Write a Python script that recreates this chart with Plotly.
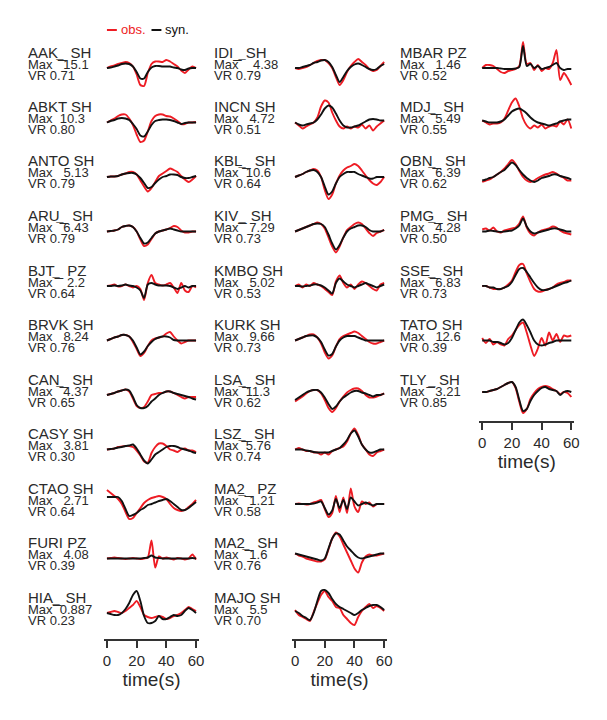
import plotly.graph_objects as go

# ---------------- data ----------------
T = [0, 2.5, 5, 7.5, 10, 12.5, 15, 17.5, 20, 22.5, 25, 27.5, 30, 32.5, 35, 37.5, 40,
     42.5, 45, 47.5, 50, 52.5, 55, 57.5, 60]
TICKS = [0, 20, 40, 60]

COL1 = ["AAK_ SH", "ABKT SH", "ANTO SH", "ARU_ SH", "BJT_ PZ", "BRVK SH", "CAN_ SH",
        "CASY SH", "CTAO SH", "FURI PZ", "HIA_ SH"]
MAX1 = ["Max ¯15.1", "Max \u00a010.3", "Max \u00a0 5.13", "Max ¯6.43", "Max¯ \u00a02.2",
        "Max \u00a0 8.24", "Max ¯4.37", "Max \u00a0 3.81", "Max \u00a0 2.71", "Max \u00a0 4.08",
        "Max¯0.887"]
VR1 = ["VR 0.71", "VR 0.80", "VR 0.79", "VR 0.79", "VR 0.64", "VR 0.76", "VR 0.65",
       "VR 0.30", "VR 0.64", "VR 0.39", "VR 0.23"]

COL2 = ["IDI_ SH", "INCN SH", "KBL_ SH", "KIV_ SH", "KMBO SH", "KURK SH", "LSA_ SH",
        "LSZ_ SH", "MA2_ PZ", "MA2_ SH", "MAJO SH"]
MAX2 = ["Max¯ \u00a04.38", "Max \u00a0 4.72", "Max¯10.6", "Max¯ 7.29", "Max \u00a0 5.02",
        "Max \u00a0 9.66", "Max¯11.3", "Max¯5.76", "Max¯ 1.21", "Max ¯1.6", "Max \u00a0 5.5"]
VR2 = ["VR 0.79", "VR 0.51", "VR 0.64", "VR 0.73", "VR 0.53", "VR 0.73", "VR 0.62",
       "VR 0.74", "VR 0.58", "VR 0.76", "VR 0.70"]

COL3 = ["MBAR PZ", "MDJ_ SH", "OBN_ SH", "PMG_ SH", "SSE_ SH", "TATO SH", "TLY_ SH"]
MAX3 = ["Max \u00a0 1.46", "Max ¯5.49", "Max ¯6.39", "Max ¯4.28", "Max ¯6.83",
        "Max \u00a0 12.6", "Max ¯3.21"]
VR3 = ["VR 0.52", "VR 0.55", "VR 0.62", "VR 0.50", "VR 0.73", "VR 0.39", "VR 0.85"]

# waveforms (pixel-scaled amplitude, up positive), sampled on T
SYN_AAK = [0, 0.5, 1.5, 2.5, 4, 4.5, 4, 1.5, -4, -10.5, -10.5, -4, 0.5, 2, 2, 1.5, 1.5, 1.5, 0.5, 0, -1.5, -2, -0.5, 0, 0]
OBS_AAK = [0, 1.5, 2.5, 4, 5, 6, 5, 1.5, -6.5, -17, -18, -5, 4, 6.5, 6.5, 6, 8, 6.5, 4, 1.5, -2.5, -5, -1.5, 1.5, 0]
SYN_ABKT = [0, 1.5, 2.5, 4, 4.5, 4, 2.5, -1.5, -6.5, -13, -14, -9, -2.5, 1.5, 2.5, 3, 3, 2.5, 1.5, 0, -1.5, -0.5, 0, 0, 0]
OBS_ABKT = [0, 2, 4, 6.5, 8, 8, 4, -2.5, -12, -19.5, -18, -9, 1.5, 6.5, 8, 8, 6.5, 6, 4, 1.5, -1.5, -1.5, 0, 0, 0.5]
SYN_ANTO = [0, 0.5, 0.5, 1, 2.5, 3.5, 4, 4, 2.5, -1, -6, -11, -10, -6, -2.5, 0, 1, 2.5, 2.5, 2, 0, -1, -1, 0, 1]
OBS_ANTO = [0, 0.5, 0.5, 1, 2.5, 3.5, 5, 5, 2.5, -3.5, -9.5, -14.5, -11, -5, 1, 3.5, 6, 8.5, 7, 5, 1, -2.5, -5, -2.5, 1]
SYN_ARU = [0, 0.5, 1, 2, 4.5, 5.5, 6, 4.5, 0, -6.5, -12, -11, -6.5, -2, 0, 1, 2, 3, 2, 1, 0, 0, 0, 0, 0]
OBS_ARU = [0, 0.5, 1, 2, 4.5, 5.5, 6, 4.5, 0, -8, -14.5, -13, -7.5, -2, 0, 1, 2, 3.5, 5.5, 4.5, 1, -1, -1, 0, 0]
SYN_BJT = [0, 0, 0.5, 0, 0.5, 1.5, 0.5, 0, -1.5, -4.5, -12, 1.5, 3, 1.5, 0.5, 0.5, 0.5, 0, -1.5, -3, -1.5, 0, -1.5, 0, 0]
OBS_BJT = [0, 0.5, 1.5, -0.5, 0, 1.5, 0, -1.5, 0, -3, -14, 3, 11, 3, 1.5, 0.5, 1.5, 3, -1.5, -7, 3, -4.5, -6, 0, -1.5]
SYN_BRVK = [0, 1.5, 3, 4, 5.5, 5.5, 4, 0, -7, -14, -11, -5.5, -1.5, 1.5, 3, 4, 4, 3, 0.5, 0, 0, 0, 0, 0, 0]
OBS_BRVK = [0, 1.5, 3, 4, 5.5, 5.5, 4, -1.5, -8.5, -15.5, -12.5, -5.5, 0, 2, 3, 4, 7, 8.5, 4, 0, -3, -1.5, 0, 0, 0]
SYN_CAN = [0, 1, 2, 3.5, 4.5, 5.5, 4.5, -2, -10, -13, -13, -11, -6.5, -3.5, 0, 2, 3.5, 3.5, 2, 1, 0, -1, -2, -3.5, -4.5]
OBS_CAN = [0, 1, 2, 3.5, 4.5, 5.5, 3.5, -3.5, -11, -13, -12, -6.5, 0, 1, 2, 2, 3.5, 3.5, 2, 0, -2, -3.5, -2, -2, -2]
SYN_CASY = [0, 0.5, 1, 2, 2.5, 3.5, 4, 5, 1, -5, -11, -14, -10, -5, -2.5, 0, 2.5, 3.5, 3.5, 2.5, 1, 0, -1, -2.5, -3.5]
OBS_CASY = [0, 0.5, 1, 2.5, 3, 3.5, 3.5, 2.5, -1, -6, -12, -13, -3.5, 2.5, 6, 6, 3.5, 0, -1, -2.5, 0, 1, -1, -1, -2.5]
SYN_CTAO = [7, 7, 7, 7, 3, -5, -12, -11, -9, -6, -4, -1, 0, 1.5, 3, 4, 5, 3, 0, -3, -6, -6, -4, -1, 2]
OBS_CTAO = [14, 11, 8, 5, 0, -8, -15, -14, -9, -4, 1, 4, 6, 7, 8, 7, 5, 0, -4, -6, -7, -6, -3, 0, 4]
SYN_FURI = [0, 0, 0, 0, 0, 0, 0, 0, 0, 0, 0.5, 1, 3, 1, 0.5, 0, 0, 0, 0, 0, 0, 0, 0, 0.5, 0]
OBS_FURI = [0, 0.5, 1, 0.5, 0, -0.5, 0, 0.5, 0, -0.5, 0, 1, 18, -9, 2, 0, 1, 0, -1, 0.5, 0, -1, 0, 4, -1]
SYN_HIA = [0, -1, -2, -2, 0, 4, 10, 18, 22, 12, -3, -10, -10, -8, -3, -6, -6, -4, -2, -3, -2, 2, 5, 3, 0]
OBS_HIA = [0, 1, 2, 1, 0, 2, 5, 8, 12, 6, -2, -4, -5, -4, -3, -4, -6, -5, -3, -2, 0, 3, 6, 4, 2]

SYN_IDI = [0, 0, 1, 2, 3, 5, 6, 7.5, 8, 6, 1, -7, -14, -9, -3, 1, 3.5, 4.5, 3, 1, -1, -2, -1, 2, 4]
OBS_IDI = [0, -1, 0, 1, 3, 5, 7, 8, 8, 5, 0, -9, -17, -12, -4, 2, 6, 9, 6, 3, -1, -3, -2, 2, 6]
SYN_INCN = [0, -2, -3, -2, -1, 0, 3, 8, 14, 17, 15, 9, 2, -3, -5, -5, -4, -3, -1, 1, 3, 3.5, 3, 2, 2]
OBS_INCN = [0, -3, -6, -4, -2, 0, 5, 16, 22, 20, 10, 2, -4, -6, -4, -6, -4, -5, -2, -6, -3, -8, -4, -1, 2]
SYN_KBL = [0, 1.5, 3, 5, 6.5, 7, 5, 0, -9.5, -17.5, -14.5, -6.5, 0, 3, 5, 5, 5, 3, 1.5, 0, -1.5, -1.5, 0, 0, 0]
OBS_KBL = [0, 1.5, 3, 5, 6.5, 8, 6.5, 0, -13, -22, -17.5, -6.5, 1.5, 6.5, 9.5, 11, 13, 11, 6.5, 1.5, -3, -6.5, -8, -5, 0]
SYN_KIV = [0, 1.5, 3, 4.5, 6, 7.5, 8, 7.5, 4.5, -3, -12, -18, -13.5, -6, 0, 3, 4.5, 6, 6, 4.5, 1.5, 0, 0, 0, 1.5]
OBS_KIV = [0, 1.5, 3, 4.5, 6, 7.5, 9, 7.5, 3, -6, -15, -21, -15, -6, 1.5, 4.5, 7.5, 9, 7.5, 3, -1.5, -4.5, -1.5, 0, 1.5]
SYN_KMBO = [0, 0, -0.5, 0, 0.5, 1.5, 1.5, 0.5, -1.5, -4.5, -7.5, 3, 7.5, 4.5, 1.5, 0, -1.5, 0, 1.5, 3, 1.5, 0, -1.5, 0, 1.5]
OBS_KMBO = [0, 1.5, -1.5, 1.5, 0, 3, 1.5, 0, -3, -6, -9, 4.5, 10.5, 3, -1.5, 1.5, -3, 1.5, 4.5, 3, 0, -3, -4.5, 1.5, 3]
SYN_KURK = [0, 1.5, 3, 4.5, 5, 5, 3, -1.5, -9, -15, -13.5, -6, 0, 3, 4.5, 4.5, 4.5, 3, 1.5, 0, 0, 0, 0, 0, 0]
OBS_KURK = [0, 1.5, 3, 4.5, 6, 6, 3, -3, -12, -18, -15, -6, 1.5, 4.5, 6, 7.5, 9, 7.5, 4.5, 1.5, -1.5, -3, -3, -1.5, 0]
SYN_LSA = [-5, -2.5, 0, 2.5, 4, 5, 5, 2.5, -2.5, -9, -14, -11.5, -6.5, -2.5, 0, 2.5, 4, 4, 2.5, 1.5, 0, -1.5, 0, 0, 1.5]
OBS_LSA = [-6.5, -4, -1.5, 1.5, 4, 5, 5, 1.5, -5, -13, -17, -13, -6.5, -1.5, 2.5, 5, 6.5, 6.5, 4, 0, -2.5, -2.5, -1.5, 0, 1.5]
SYN_LSZ = [0, 0, 0, -1, -1.5, -2.5, -3, -3, -3, -3, -1.5, 0, 1.5, 5, 9.5, 16, 19, 13, 5, 0, -3, -3, -1.5, 0, 0]
OBS_LSZ = [0, 1.5, 0, -1.5, -1.5, -3, -3, -5, -3, -5, -1.5, 0, 1.5, 3, 8, 16, 21, 14.5, 5, 0, -5, -6.5, -3, -1.5, 0]
SYN_MA2P = [0, 0, 0, 0, 0, 0.5, 1.5, 2.5, -4, -10.5, -6.5, 5, -4, 4, -5, 6.5, 2.5, -1.5, 0, 1.5, 0, -1.5, 0, 0, 0]
OBS_MA2P = [0, 0.5, 0, -0.5, 0, 1.5, 2.5, 4, -5, -13, -9, 8, -8, 6.5, -9, 15.5, -2.5, -8, 2.5, 0, 1.5, -2.5, 0, 0, 0]
SYN_MA2S = [5, 4, 3, 2, 1, 0, -1, -2, 0, 10, 20, 25, 24, 18, 12, 8, 4, 1, 0, 1, 2, 3, 4, 5, 5]
OBS_MA2S = [5, 3, 2, 0, -1, -2, -3, -3, -1, 9, 20, 26, 22, 14, 6, -2, -10, -14, -4, 2, 4, 3, 3, 4, 5]
SYN_MAJO = [2, 0, -3, -5, -7, 0, 12, 22, 23, 20, 14, 9, 6, 4, 2, 0, -2, 0, 3, 5, 7, 8, 8, 6, 3]
OBS_MAJO = [3, -2, -4, -6, -8, 1, 10, 18, 22, 16, 12, 6, 5, -2, -6, -10, -12, -4, 2, 6, 9, 5, 7, 5, 2]

SYN_MBAR = [0, 0, 0, 0, 0, -0.5, -1, -1, -1, -0.5, 1, 22, 2, 4, 0, 2, -1, 0, 1, 3, 5, 0, -2, -1, -1]
OBS_MBAR = [0, 3, 3, 2, -1, -4, -5, -3, -2, -1, 2, 26, 4, 5, -2, 3, -3, 0, -1, 5, 18, -12, -5, -10, -17]
SYN_MDJ = [2, 1, 0, 0, 0, 1, 3, 7, 11, 13, 14, 12, 9, 5, 2, 0, -1, -2, -3, -2, -1, 1, 2, 3, 3]
OBS_MDJ = [2, 0, -2, -1, -1, 0, 4, 12, 20, 24, 16, 4, -3, -6, -3, -5, -2, -6, -4, -3, -4, 1, -2, 3, -6]
SYN_OBN = [-3.5, -2.5, -1, 0, 2.5, 5, 7, 11, 14.5, 12, 7, 2.5, -1, -3.5, -5, -3.5, -1, 0, 1, 2.5, 2.5, 1, 0, -1, -2.5]
OBS_OBN = [-5, -3.5, -2.5, 0, 2.5, 5, 8.5, 13, 17, 13, 6, 0, -3.5, -5, -3.5, -1, 1, 2.5, 3.5, 5, 3.5, 1, -1, -3.5, -3.5]
SYN_PMG = [0, 0, 1, 0.5, 0, -0.5, 0, 0.5, 1, 3, 6, 13, 5, 0, -2, -1, 0, 1, 2, 3, 3, 2, 1, 0, 0]
OBS_PMG = [2, 3, 1, 4, 0, -1, 1, 2, 3, 4, 8, 15, 4, -2, -4, -1, 1, 2, 3, 5, 4, 1, -1, -2, -3]
SYN_SSE = [0, 0, -1.5, -1.5, -3, -3, -1.5, 0, 4, 11, 17, 18, 14, 8.5, 3, -1.5, -4, -4, -3, -1.5, 0, 1.5, 3, 4, 5.5]
OBS_SSE = [0, 0, -1.5, -3, -3, -3, -1.5, 1.5, 5.5, 14, 21, 22, 12.5, 4, -3, -5.5, -5.5, -4, -3, -1.5, 1.5, 3, 4, 5.5, 5.5]
SYN_TATO = [0, 0, 0, -1.5, -1.5, -2.5, -4, -2.5, 2.5, 10.5, 18, 21, 15.5, 8, 0, -4, -5, -4, -2.5, -1.5, 0, 0, 0, 0, 0]
OBS_TATO = [2.5, -2.5, 1.5, -4, -1.5, -4, -5, 1.5, 5, 10.5, 15.5, 18, 8, -5, -15.5, -8, 2.5, -5, 8, 0, 6.5, -1.5, 5, 4, 5]
SYN_TLY = [3, 3, 4, 5, 6, 8, 10, 12, 13, 8, -5, -16, -14, -6, 0, 4, 7, 8, 6, 5, 4, 0, 3, 4, 3]
OBS_TLY = [3, 3, 4, 5, 6, 8, 10, 12, 13, 7, -7, -18, -14, -4, 2, 6, 8, 9, 8, 6, 4, 1, 3, 2, -2]

OBS1 = [OBS_AAK, OBS_ABKT, OBS_ANTO, OBS_ARU, OBS_BJT, OBS_BRVK, OBS_CAN, OBS_CASY, OBS_CTAO, OBS_FURI, OBS_HIA]
SYN1 = [SYN_AAK, SYN_ABKT, SYN_ANTO, SYN_ARU, SYN_BJT, SYN_BRVK, SYN_CAN, SYN_CASY, SYN_CTAO, SYN_FURI, SYN_HIA]
OBS2 = [OBS_IDI, OBS_INCN, OBS_KBL, OBS_KIV, OBS_KMBO, OBS_KURK, OBS_LSA, OBS_LSZ, OBS_MA2P, OBS_MA2S, OBS_MAJO]
SYN2 = [SYN_IDI, SYN_INCN, SYN_KBL, SYN_KIV, SYN_KMBO, SYN_KURK, SYN_LSA, SYN_LSZ, SYN_MA2P, SYN_MA2S, SYN_MAJO]
OBS3 = [OBS_MBAR, OBS_MDJ, OBS_OBN, OBS_PMG, OBS_SSE, OBS_TATO, OBS_TLY]
SYN3 = [SYN_MBAR, SYN_MDJ, SYN_OBN, SYN_PMG, SYN_SSE, SYN_TATO, SYN_TLY]

# ---------------- layout ----------------
W, H = 607, 720
ROW0, DY, HALF = 68, 54.5, 30
FONT = "Liberation Sans, Arial, sans-serif"
TXT = "#2a2a2a"
RED = "#ee1c24"

columns = [
    dict(names=COL1, maxs=MAX1, vrs=VR1, obs=OBS1, syn=SYN1, x0=104, x1=200, tx=26),
    dict(names=COL2, maxs=MAX2, vrs=VR2, obs=OBS2, syn=SYN2, x0=294, x1=390, tx=214),
    dict(names=COL3, maxs=MAX3, vrs=VR3, obs=OBS3, syn=SYN3, x0=483, x1=579, tx=402),
]

fig = go.Figure()
layout = dict(width=W, height=H, margin=dict(l=0, r=0, t=0, b=0),
              paper_bgcolor="white", plot_bgcolor="rgba(0,0,0,0)",
              showlegend=False, font=dict(family=FONT, color=TXT))
annotations = []
yi = 0
for ci, col in enumerate(columns):
    xname = "x" if ci == 0 else f"x{ci + 1}"
    xkey = "xaxis" if ci == 0 else f"xaxis{ci + 1}"
    nrows = len(col["names"])
    axis_px = ROW0 + (nrows - 1) * DY + 27
    layout[xkey] = dict(domain=[col["x0"] / W, col["x1"] / W], range=[-2, 62],
                        anchor="free", position=1 - axis_px / H,
                        showgrid=False, zeroline=False, showline=True,
                        linecolor="#333", linewidth=1.5, ticks="outside",
                        ticklen=7, tickwidth=1.5, tickcolor="#333",
                        tickvals=TICKS, ticktext=[str(v) for v in TICKS],
                        tickfont=dict(size=15, color=TXT, family=FONT),
                        title=dict(text="time(s)", font=dict(size=19, color=TXT, family=FONT),
                                   standoff=4))
    for i in range(nrows):
        yi += 1
        yname = "y" if yi == 1 else f"y{yi}"
        ykey = "yaxis" if yi == 1 else f"yaxis{yi}"
        base = ROW0 + i * DY
        layout[ykey] = dict(domain=[1 - (base + HALF) / H, 1 - (base - HALF) / H],
                            range=[-HALF, HALF], anchor=xname, visible=False,
                            showgrid=False, zeroline=False, fixedrange=True)
        fig.add_trace(go.Scatter(x=T, y=col["obs"][i], xaxis=xname, yaxis=yname,
                                 mode="lines", line=dict(color=RED, width=1.9,
                                                         shape="spline", smoothing=0.7),
                                 hoverinfo="skip"))
        fig.add_trace(go.Scatter(x=T, y=col["syn"][i], xaxis=xname, yaxis=yname,
                                 mode="lines", line=dict(color="#111", width=1.9,
                                                         shape="spline", smoothing=0.7),
                                 hoverinfo="skip"))
        # one text block per station: tight line spacing like the reference
        block = (f"<span style='font-size:15px'>{col['names'][i]}</span><br>"
                 f"<span style='font-size:13px'>{col['maxs'][i]}</span><br>"
                 f"<span style='font-size:13px'>{col['vrs'][i]}</span>")
        annotations.append(dict(text=block, xref="paper", yref=yname,
                                x=col["tx"] / W, y=5, xanchor="left", align="left",
                                yanchor="middle", showarrow=False, borderpad=0,
                                font=dict(size=8.5, color=TXT, family=FONT)))

# legend
annotations.append(dict(text="obs.", xref="paper", yref="paper", x=119 / W, y=1 - 30 / H,
                        xanchor="left", yanchor="middle", showarrow=False,
                        font=dict(size=13, color=RED, family=FONT)))
annotations.append(dict(text="syn.", xref="paper", yref="paper", x=164 / W, y=1 - 30 / H,
                        xanchor="left", yanchor="middle", showarrow=False,
                        font=dict(size=13, color="#111", family=FONT)))
layout["shapes"] = [
    dict(type="line", xref="paper", yref="paper", x0=107 / W, x1=117 / W,
         y0=1 - 30 / H, y1=1 - 30 / H, line=dict(color=RED, width=2)),
    dict(type="line", xref="paper", yref="paper", x0=152 / W, x1=162 / W,
         y0=1 - 30 / H, y1=1 - 30 / H, line=dict(color="#111", width=2)),
]
layout["annotations"] = annotations
fig.update_layout(**layout)
fig.write_html("out.html")
